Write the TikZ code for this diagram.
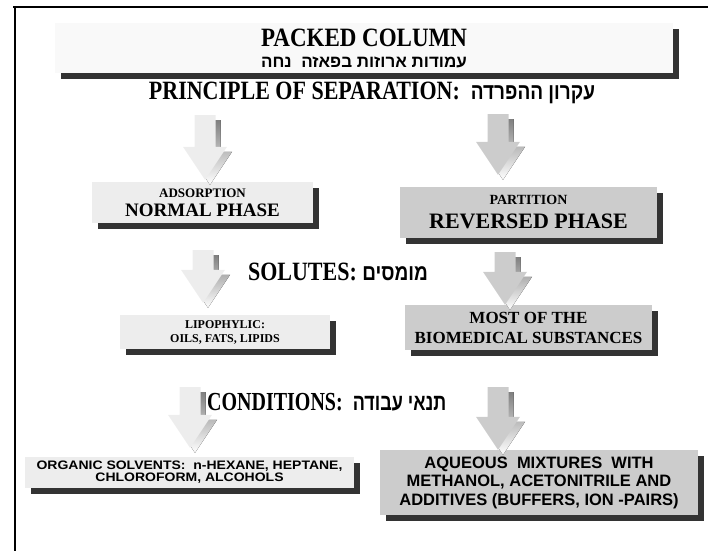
\documentclass[tikz,border=0pt]{standalone}
\usepackage{fontspec}
\setmainfont{Liberation Serif}
\setsansfont{Liberation Sans}
\newfontfamily\hebfont[Script=Hebrew]{Liberation Sans}
\TeXXeTstate=1
\usetikzlibrary{positioning, calc, shadows}

\definecolor{shade}{gray}{0.2}
\definecolor{pale}{gray}{0.93}
\definecolor{midgrey}{gray}{0.8}
\definecolor{paper}{gray}{0.975}

\newcommand{\heb}[1]{{\hebfont\beginR #1\endR}}
\newcommand{\fsz}[2]{\fontsize{#1}{#2}\selectfont}
\newcommand{\tall}[2]{\scalebox{1}[#1]{#2}}

\tikzset{
    arrshape/.style 2 args={insert path={
        ($(#1)+(-10.5,0)$) -- ($(#1)+(10.5,0)$) -- ($(#2)+(10.5,-33)$)
        -- ($(#2)+(22,-33)$) -- (#2) -- ($(#2)+(-22,-33)$)
        -- ($(#2)+(-10.5,-33)$) -- cycle}}
}

% block arrow: top coordinate, target box, gap above box, colour
\newcommand{\blockarr}[4]{%
    \coordinate (tp) at ($(#1 |- #2.north)+(0,-#3)$);
    \coordinate (bs) at ($(#1)+(5,5)$);
    \coordinate (ts) at ($(tp)+(5,5)$);
    \fill[shade, arrshape={bs}{ts}];
    \fill[#4, arrshape={#1}{tp}];
}

\begin{document}
\begin{tikzpicture}[
    x=1pt, y=-1pt,
    box/.style={rectangle, inner sep=0pt, align=center,
        drop shadow={shadow xshift=6pt, shadow yshift=-6pt, fill=shade, opacity=1}},
    heading/.style={inner sep=0pt, font=\bfseries\fsz{22}{26}}
]
\useasboundingbox (0,0) rectangle (708,551);

% --- frame ---
\draw[line width=2pt] (13,7) -- (708,7);
\draw[line width=2pt] (15,7) -- (15,551);

% --- title ---
\node[box, fill=paper, minimum width=618, minimum height=50,
      font=\bfseries\fsz{23}{21}] (colbox) at (364,48)
    {\tall{1.15}{PACKED COLUMN}\\
     {\fsz{17}{20}\heb{עמודות ארוזות בפאזה\ \ נחה}}};

\node[heading] (princ) at (372,93)
    {\tall{1.2}{PRINCIPLE OF SEPARATION:\ \ {\fsz{19}{26}\heb{עקרון ההפרדה}}}};

% --- phases ---
\node[box, fill=pale, minimum width=221, minimum height=41,
      font=\bfseries\fsz{19}{19}] (normal) at (202.5,202.5)
    {{\fsz{13}{13}ADSORPTION}\\NORMAL PHASE};
\node[box, fill=midgrey, minimum width=257, minimum height=51,
      font=\bfseries\fsz{22}{24}] (reversed) at (528.5,212.5)
    {{\fsz{14}{15}PARTITION}\\REVERSED PHASE};

\coordinate (s1l) at (205,115);
\coordinate (s1r) at (498,114);
\blockarr{s1l}{normal}{2}{pale}
\blockarr{s1r}{reversed}{12}{midgrey}

% --- solutes ---
\node[heading] (solutes) at (338,272)
    {\tall{1.2}{SOLUTES:\ {\fsz{19}{26}\heb{מומסים}}}};

\node[box, fill=pale, minimum width=210, minimum height=34,
      font=\bfseries\fsz{12}{14}] (lipo) at (225,332)
    {LIPOPHYLIC:\\OILS, FATS, LIPIDS};
\node[box, fill=midgrey, minimum width=247, minimum height=45,
      font=\bfseries\fsz{17}{20}] (biomed) at (528.5,327.5)
    {MOST OF THE\\BIOMEDICAL SUBSTANCES};

\coordinate (s2l) at (203,250);
\coordinate (s2r) at (505,252);
\blockarr{s2l}{lipo}{12}{pale}
\blockarr{s2r}{biomed}{0}{midgrey}

% --- conditions ---
\coordinate (s3l) at (190,387);
\coordinate (s3r) at (498,387);

\node[box, fill=pale, minimum width=329, minimum height=31,
      font=\sffamily\bfseries\fsz{14}{12}] (organic) at (189.5,472.5)
    {\tall{0.88}{ORGANIC SOLVENTS:\ \ n-HEXANE, HEPTANE,}\\\tall{0.88}{CHLOROFORM, ALCOHOLS}};
\node[box, fill=midgrey, minimum width=318, minimum height=65,
      font=\sffamily\bfseries\fsz{16.5}{18.5}] (aqueous) at (539,482.5)
    {AQUEOUS\ \ MIXTURES\ \ WITH\\METHANOL, ACETONITRILE AND\\ADDITIVES (BUFFERS, ION -PAIRS)};

\blockarr{s3l}{organic}{9}{pale}
\blockarr{s3r}{aqueous}{0}{midgrey}

\node[heading, font=\bfseries\fsz{20}{24}, anchor=west] (cond) at (207,402)
    {\tall{1.3}{CONDITIONS:\ \ {\fsz{18}{24}\heb{תנאי עבודה}}}};

\end{tikzpicture}
\end{document}
